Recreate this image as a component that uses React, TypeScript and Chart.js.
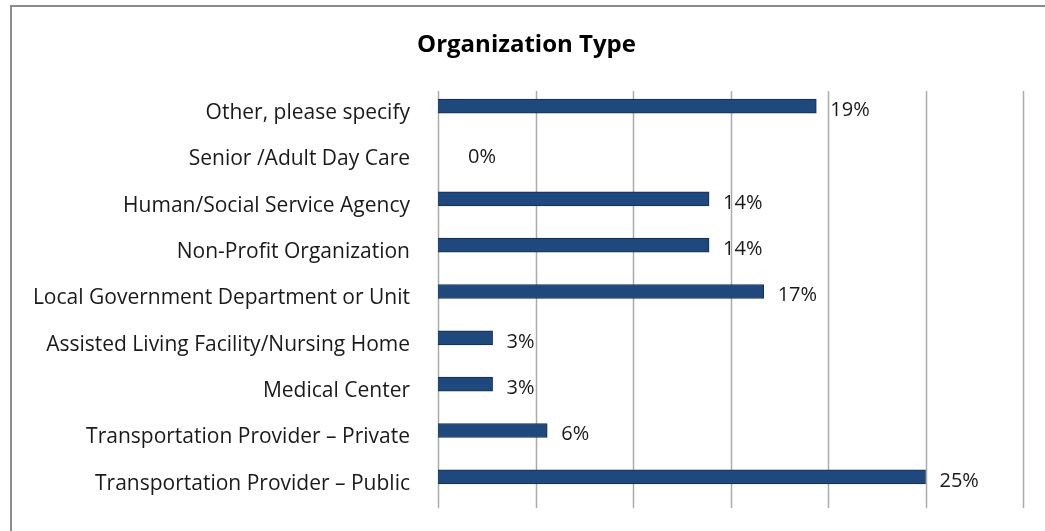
import React, { useEffect, useRef } from "react";
import { Chart, registerables } from "chart.js";

Chart.register(...registerables);

const categories = [
  "Other, please specify",
  "Senior /Adult Day Care",
  "Human/Social Service Agency",
  "Non-Profit Organization",
  "Local Government Department or Unit",
  "Assisted Living Facility/Nursing Home",
  "Medical Center",
  "Transportation Provider \u2013 Private",
  "Transportation Provider \u2013 Public",
];

const percentValues = [19.4, 0, 13.9, 13.9, 16.7, 2.8, 2.8, 5.6, 25.0];

const axisMin = 0;
const axisMax = 30;
const axisStep = 5;

const FONT = "'Open Sans', Lato, sans-serif";

export default function App() {
  const canvasRef = useRef<HTMLCanvasElement | null>(null);

  useEffect(() => {
    const canvas = canvasRef.current;
    if (!canvas) return;

    const framePlugin = {
      id: "frame",
      beforeDraw(chart: any) {
        const ctx = chart.ctx;
        ctx.save();
        ctx.fillStyle = "#ffffff";
        ctx.fillRect(0, 0, chart.width, chart.height);
        ctx.strokeStyle = "#8c8c8c";
        ctx.lineWidth = 2;
        ctx.beginPath();
        ctx.moveTo(11, chart.height);
        ctx.lineTo(11, 6);
        ctx.lineTo(chart.width, 6);
        ctx.stroke();
        ctx.restore();
      },
    };

    const gridPlugin = {
      id: "vgrid",
      beforeDatasetsDraw(chart: any) {
        const ctx = chart.ctx;
        const xs = chart.scales.x;
        const area = chart.chartArea;
        ctx.save();
        ctx.strokeStyle = "#ababab";
        ctx.lineWidth = 1.5;
        for (let v = axisMin; v <= axisMax; v += axisStep) {
          const px = Math.round(xs.getPixelForValue(v)) + 0.5;
          ctx.beginPath();
          ctx.moveTo(px, area.top + 8);
          ctx.lineTo(px, area.bottom + 8);
          ctx.stroke();
        }
        ctx.restore();
      },
    };

    const labelPlugin = {
      id: "valueLabels",
      afterDatasetsDraw(chart: any) {
        const ctx = chart.ctx;
        const meta = chart.getDatasetMeta(0);
        const data = chart.data.datasets[0].data as number[];
        ctx.save();
        ctx.font = `20px ${FONT}`;
        ctx.fillStyle = "#1a1a1a";
        ctx.textAlign = "left";
        ctx.textBaseline = "middle";
        meta.data.forEach((bar: any, i: number) => {
          const v = data[i];
          const off = v === 0 ? 30 : 14;
          ctx.fillText(`${Math.round(v)}%`, bar.x + off, bar.y + (v === 0 ? 5 : 4));
        });
        ctx.restore();
      },
    };

    const chart = new Chart(canvas, {
      type: "bar",
      data: {
        labels: categories,
        datasets: [
          {
            data: percentValues,
            backgroundColor: "#1F497D",
            borderColor: "#132d4f",
            borderWidth: 1,
            barThickness: 14,
          },
        ],
      },
      options: {
        indexAxis: "y",
        animation: false,
        responsive: false,
        maintainAspectRatio: false,
        layout: { padding: { left: 30, right: 22, top: 0, bottom: 31 } },
        plugins: {
          legend: { display: false },
          tooltip: { enabled: false },
          title: {
            display: true,
            text: "Organization Type",
            color: "#000000",
            font: { family: FONT, size: 24, weight: "bold", lineHeight: 1.2 },
            padding: { top: 30.6, bottom: 23.6 },
          },
        },
        scales: {
          x: {
            display: false,
            min: axisMin,
            max: axisMax,
            ticks: { stepSize: axisStep },
          },
          y: {
            position: "left",
            grid: { display: false, drawTicks: false },
            border: { display: false },
            ticks: {
              color: "#1a1a1a",
              padding: 28,
              labelOffset: 7,
              font: { family: FONT, size: 21 },
            },
            afterFit(scale: any) {
              scale.width = 408;
              scale.paddingTop = 0;
              scale.paddingBottom = 0;
            },
          },
        },
      },
      plugins: [framePlugin, gridPlugin, labelPlugin],
    });

    return () => chart.destroy();
  }, []);

  return (
    <div style={{ position: "fixed", left: 0, top: 0, width: 1045, height: 531, background: "#fff" }}>
      <canvas ref={canvasRef} width={1045} height={531} style={{ width: 1045, height: 531, display: "block" }} />
    </div>
  );
}
